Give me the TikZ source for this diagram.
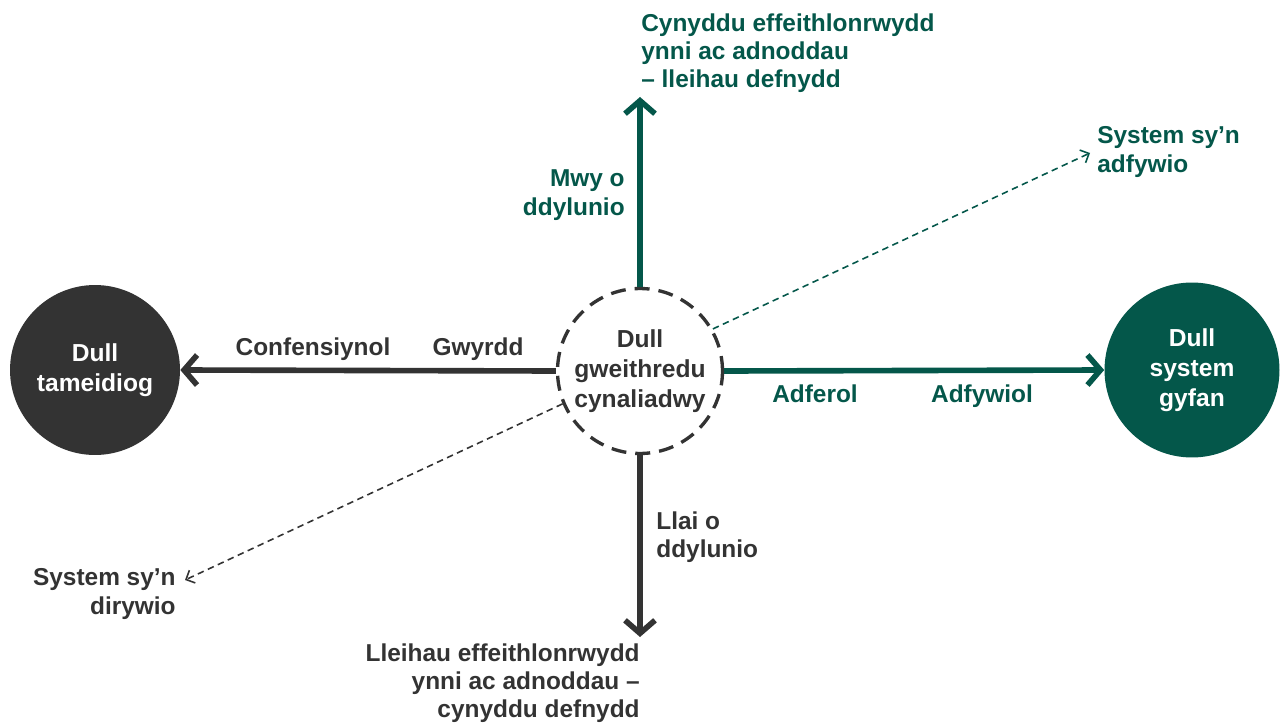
\documentclass[tikz,border=0pt]{standalone}
\usepackage{fontspec}
\setmainfont{Liberation Sans}
\usepackage{tikz}
\usetikzlibrary{arrows.meta,positioning}
\definecolor{walesdark}{HTML}{333333}
\definecolor{walesgreen}{HTML}{04574A}
\tikzset{
  bigcircle/.style={circle, minimum size=3.4cm, inner sep=0pt, align=center, text=white, font=\fontsize{14}{17}\selectfont\bfseries},
  midcircle/.style={circle, draw=walesdark, dash pattern=on 3mm off 1.8mm, line width=1.9pt, minimum size=3.3cm, inner sep=0pt, align=center, text=walesdark, font=\fontsize{14}{17}\selectfont\bfseries},
  lbl/.style={inner sep=0pt, font=\fontsize{13.9}{16.1}\selectfont\bfseries},
  mainarrow/.style={-{Straight Barb[length=2.6mm,width=6mm]}, line width=3.2pt},
  dasharrow/.style={-{Straight Barb[length=1.4mm,width=2.8mm]}, dash pattern=on 1.3mm off 0.9mm, line width=0.9pt}
}
\begin{document}
\begin{tikzpicture}[x=0.02cm, y=-0.02cm]
  \useasboundingbox (0,0) rectangle (1287,726);
  % circles
  \node[midcircle] (mid) at (640,371) {Dull\\gweithredu\\cynaliadwy};
  \node[bigcircle, fill=walesdark] (piece) at (95,370) {Dull\\tameidiog};
  \node[bigcircle, fill=walesgreen, minimum size=3.5cm] (whole) at (1192,370) {Dull\\system\\gyfan};
  % arrow ends
  \coordinate (uptip) at (640,97);
  \coordinate (downtip) at (640,637);
  \coordinate (regen) at (1090,153);
  \coordinate (degen) at (185,580);
  % arrows
  \draw[mainarrow, walesdark] (mid.west) -- (piece.east);
  \draw[mainarrow, walesgreen] (mid.east) -- (whole.west);
  \draw[mainarrow, walesgreen] (mid.north) -- (uptip);
  \draw[mainarrow, walesdark] (mid.south) -- (downtip);
  \draw[dasharrow, walesgreen] (mid.30) -- (regen);
  \draw[dasharrow, walesdark] (mid.203) -- (degen);
  % labels
  \node[lbl, text=walesgreen, align=left, anchor=south west] (moreeff) at (641,93) {Cynyddu effeithlonrwydd\\ynni ac adnoddau\\– lleihau defnydd};
  \node[lbl, text=walesdark, align=right, anchor=north east] (lesseff) at (640,643) {Lleihau effeithlonrwydd\\ynni ac adnoddau –\\cynyddu defnydd};
  \node[lbl, text=walesgreen, align=right, anchor=east] (moredes) at (625,195) {Mwy o\\ddylunio};
  \node[lbl, text=walesdark, align=left, anchor=west] (lessdes) at (656,537) {Llai o\\ddylunio};
  \node[lbl, text=walesgreen, align=left, anchor=west] (regentxt) at (1097,152) {System sy’n\\adfywio};
  \node[lbl, text=walesdark, align=right, anchor=east] (degentxt) at (176,594) {System sy’n\\dirywio};
  \node[lbl, text=walesdark, anchor=base] (conv) at (313,355) {Confensiynol};
  \node[lbl, text=walesdark, anchor=base] (green) at (478,355) {Gwyrdd};
  \node[lbl, text=walesgreen, anchor=base] (restore) at (815,402) {Adferol};
  \node[lbl, text=walesgreen, anchor=base] (regenerate) at (982,402) {Adfywiol};
\end{tikzpicture}
\end{document}
